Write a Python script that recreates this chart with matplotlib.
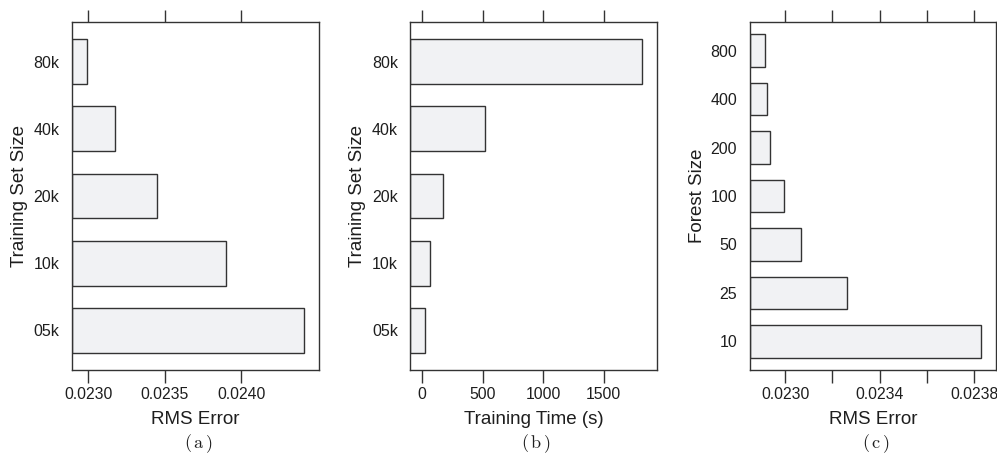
import matplotlib
matplotlib.use('Agg')
import matplotlib.pyplot as plt

plt.rcParams['font.family'] = ['Liberation Sans', 'DejaVu Sans']
plt.rcParams['mathtext.fontset'] = 'cm'

# panel (a): RMS error vs training set size
size_labels = ['05k', '10k', '20k', '40k', '80k']
rms_by_size = [0.02441, 0.02390, 0.023447, 0.023172, 0.022993]

# panel (b): training time vs training set size
time_by_size = [28, 66, 177, 518, 1818]

# panel (c): RMS error vs forest size
forest_labels = ['10', '25', '50', '100', '200', '400', '800']
rms_by_forest = [0.023828, 0.02326, 0.023068, 0.022993, 0.022937, 0.022923, 0.022914]

edge = '#333333'
fill = '#f1f2f4'
txt = '#1e1e1e'


def lattice_bar(ax, labels, values, xticks, xticklabels, xlabel, ylabel, tag):
    lo, hi = min(values), max(values)
    pad = 0.07 * (hi - lo)
    left = lo - pad
    pos = list(range(len(values)))
    # lattice style: bars start at the left edge of the panel
    ax.barh(pos, [v - left for v in values], left=left, height=0.667,
            color=fill, edgecolor=edge, linewidth=1.0)
    ax.set_xlim(left, hi + pad)
    ax.set_ylim(-0.59, len(values) - 1 + 0.59)
    ax.set_yticks(pos)
    ax.set_yticklabels(labels)
    ax.set_xticks(xticks)
    ax.set_xticklabels(xticklabels)
    ax.tick_params(axis='y', length=0, pad=9, labelsize=11.5, colors=txt)
    ax.tick_params(axis='x', which='both', direction='out', length=9, width=1,
                   color=edge, top=True, labeltop=False, labelsize=11.3, pad=3,
                   labelcolor=txt)
    for s in ax.spines.values():
        s.set_color(edge)
        s.set_linewidth(1.0)
    ax.set_xlabel(xlabel, fontsize=13.5, color=txt)
    ax.xaxis.label.set_va('center')
    ax.xaxis.set_label_coords(0.5, -0.141)
    ax.set_ylabel(ylabel, fontsize=13.5, color=txt)
    ax.yaxis.label.set_va('center')
    ax.yaxis.set_label_coords(-0.213, 0.5)
    ax.text(0.51, -0.212, r'$(\,\mathrm{' + tag + r'}\,)$', transform=ax.transAxes,
            ha='center', va='center', fontsize=13, color=txt)


fig = plt.figure(figsize=(9.97, 4.58), dpi=100)
ax1 = fig.add_axes([0.0722, 0.1921, 0.2481, 0.7598])
ax2 = fig.add_axes([0.4115, 0.1921, 0.2477, 0.7598])
ax3 = fig.add_axes([0.7520, 0.1921, 0.2470, 0.7598])

lattice_bar(ax1, size_labels, rms_by_size,
            [0.0230, 0.0235, 0.0240], ['0.0230', '0.0235', '0.0240'],
            'RMS Error', 'Training Set Size', 'a')
lattice_bar(ax2, size_labels, time_by_size,
            [0, 500, 1000, 1500], ['0', '500', '1000', '1500'],
            'Training Time (s)', 'Training Set Size', 'b')
lattice_bar(ax3, forest_labels, rms_by_forest,
            [0.0230, 0.0232, 0.0234, 0.0236, 0.0238],
            ['0.0230', '', '0.0234', '', '0.0238'],
            'RMS Error', 'Forest Size', 'c')

fig.savefig('out.png', dpi=100)
